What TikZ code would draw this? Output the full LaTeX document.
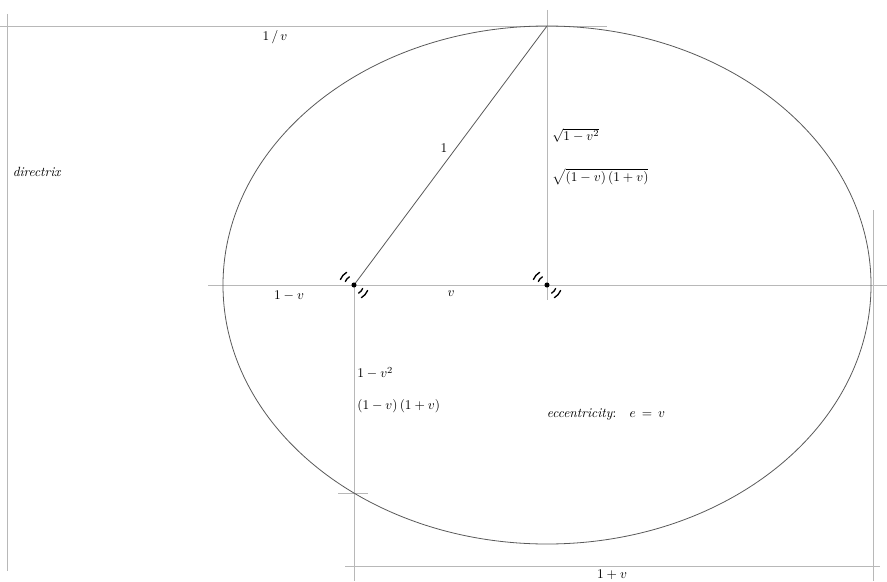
\documentclass[tikz,border=0pt]{standalone}
\usepackage{tikz}
\definecolor{guidegray}{gray}{0.72}
\definecolor{orbitgray}{gray}{0.35}

\begin{document}
\begin{tikzpicture}[x=0.75pt,y=-0.75pt,
    every node/.style={inner sep=1pt, outer sep=0pt},
    guide/.style={draw=guidegray, line width=0.6pt},
    orbit/.style={draw=orbitgray, line width=0.6pt},
    dotmark/.style={circle, fill=black, inner sep=0pt, minimum size=3.8pt},
    wave/.style={line width=1pt, line cap=round}]
            \useasboundingbox (0,0) rectangle (887,581);
            % points of the ellipse
            \coordinate (C) at (547,285);
            \coordinate (F) at (354,285);
            \coordinate (T) at (547,26);
            % guide lines
            \draw[guide] (0,26) -- (607,26);
            \draw[guide] (7,14) -- (7,571);
            \draw[guide] (208,285) -- (887,285);
            \draw[guide] (547,10) -- (547,300);
            \draw[guide] (F) -- (354,581);
            \draw[guide] (338,493) -- (368,493);
            \draw[guide] (873,210) -- (873,581);
            \draw[guide] (345,566) -- (880,566);
            % ellipse and radius
            \draw[orbit] (C) ellipse [x radius=324, y radius=259];
            \draw[orbit] (F) -- (T);
            % focus marks
            \foreach \p in {F,C} {
                \node[dotmark] at (\p) {};
                \draw[wave] (\p) ++(120:7pt) arc[start angle=120, end angle=158, radius=7pt];
                \draw[wave] (\p) ++(120:11pt) arc[start angle=120, end angle=158, radius=11pt];
                \draw[wave] (\p) ++(300:7pt) arc[start angle=300, end angle=338, radius=7pt];
                \draw[wave] (\p) ++(300:11pt) arc[start angle=300, end angle=338, radius=11pt];
            }
            % labels
            \node (inv) at (275,37) {$1\,/\,v$};
            \node (dir) at (37,172) {\textit{directrix}};
            \node (one) at (444,148) {$1$};
            \node[anchor=west] (sq) at (551,135) {$\sqrt{1-v^2}$};
            \node[anchor=west] (sqf) at (551,177) {$\sqrt{(1-v)\,(1+v)}$};
            \node (lv) at (289,296) {$1-v$};
            \node (vv) at (451,294) {$v$};
            \node[anchor=west] (lat) at (356,373) {$1-v^2$};
            \node[anchor=west] (latf) at (356,406) {$(1-v)\,(1+v)$};
            \node (ecc) at (606,415) {\textit{eccentricity}:\quad $e\,=\,v$};
            \node (ap) at (612,575) {$1+v$};
        \end{tikzpicture}
\end{document}
